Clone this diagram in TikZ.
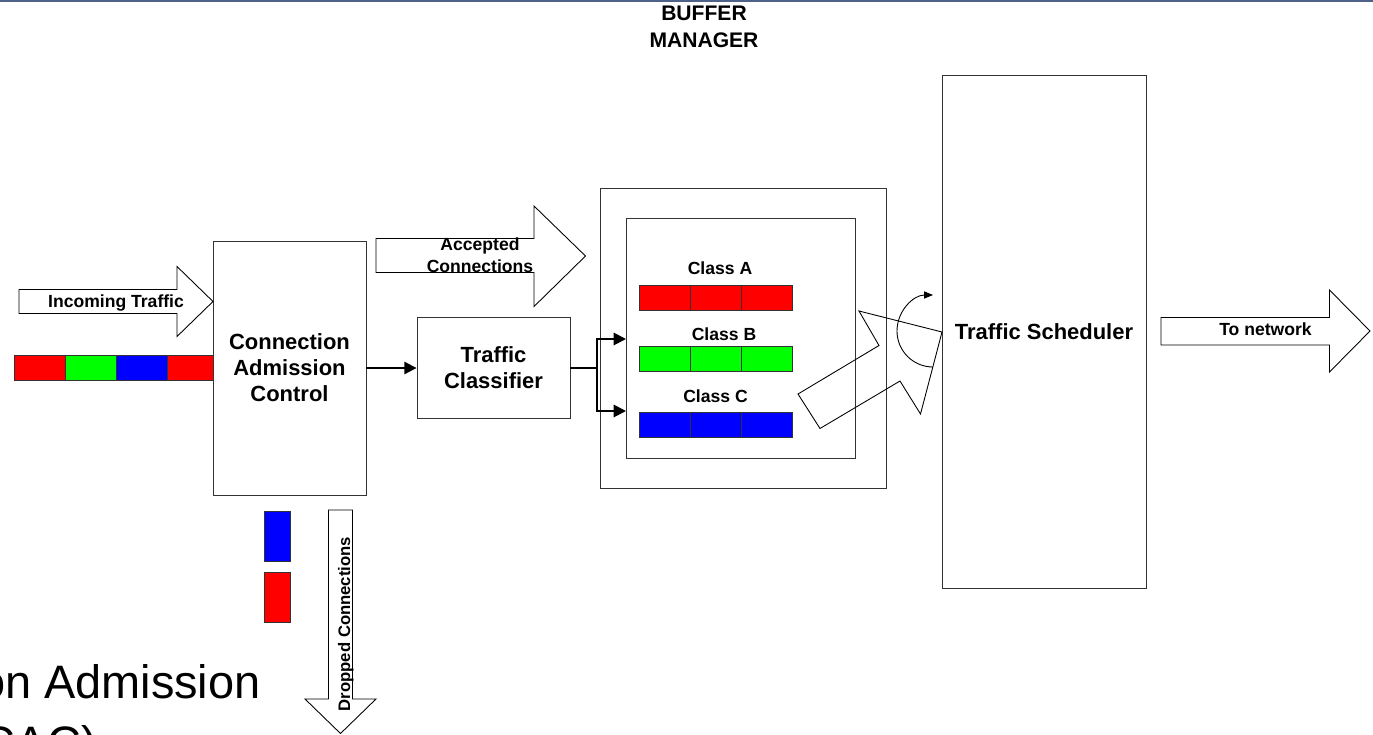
\documentclass[tikz,border=0pt]{standalone}
\usepackage{fontspec}
\setmainfont{Liberation Sans}
\usetikzlibrary{arrows.meta}

\definecolor{slideline}{RGB}{79,98,138}
\newcommand{\pxu}{0.02cm}
\newcommand{\boxfont}{\bfseries\fontsize{12.5}{14.8}\selectfont}
\newcommand{\lblfont}{\bfseries\fontsize{10}{12.5}\selectfont}
\newcommand{\slidefont}{\fontsize{26.7}{32}\selectfont}

\begin{document}
\begin{tikzpicture}[x=\pxu, y=-\pxu,
    box/.style={draw=black!80, line width=0.5pt, fill=white, align=center, font=\boxfont, inner sep=0pt},
    lbl/.style={font=\lblfont, inner sep=0pt},
    conn/.style={line width=1.1pt, -{Triangle[length=7pt, width=7pt]}},
    barrow/.style={draw=black, line width=0.5pt, fill=white},
    cell/.style={draw=black!80, line width=0.5pt}]
    \useasboundingbox (0,0) rectangle (1373,734);
    \clip (0,0) rectangle (1373,734);

    % slide remains
    \draw[slideline, line width=1.2pt] (0,1) -- (1373,1);
    \node[font=\slidefont, inner sep=0pt, anchor=base east] (slide1) at (261,698) {on Admission};
    \node[font=\slidefont, inner sep=0pt, anchor=base west] (slide2) at (-34,759) {(CAC)};

    % incoming packets
    \foreach \c [count=\i from 0] in {red,green,blue,red}
        \draw[cell, fill=\c] (14+51*\i,355.5) rectangle ++(51,25);

    % main blocks
    \node[box, minimum width=153*\pxu, minimum height=254*\pxu] (cac) at (289.5,368) {Connection\\Admission\\Control};
    \node[box, minimum width=153*\pxu, minimum height=101*\pxu] (tc) at (493.5,368) {Traffic\\Classifier};
    \node[box, minimum width=286*\pxu, minimum height=300*\pxu] (bufouter) at (743,338) {};
    \node[box, minimum width=229*\pxu, minimum height=240*\pxu] (bufinner) at (740.5,338) {};
    \node[box, minimum width=204*\pxu, minimum height=513*\pxu] (ts) at (1044,331.5) {Traffic Scheduler};
    \node[lbl, font=\bfseries\fontsize{12}{15.4}\selectfont, align=center] (bmtitle) at (704,27) {BUFFER\\MANAGER};

    % class queues
    \foreach \cls/\tx/\ty/\col/\by in {A/720/274/red/285, B/724/340/green/346.5, C/715.5/402/blue/412.5} {
        \node[lbl, anchor=base] (class\cls) at (\tx,\ty) {Class \cls};
        \foreach \i in {0,1,2}
            \draw[cell, fill=\col] (639+51*\i,\by) rectangle ++(51,25);
    }

    % connectors
    \draw[conn] (cac.east) -- (cac.east -| tc.west);
    \coordinate (split) at (597,368);
    \coordinate (toB) at (626,339);
    \coordinate (toC) at (626,411);
    \draw[line width=1.1pt] (tc.east) -- (split);
    \draw[conn] (split) |- (toB);
    \draw[conn] (split) |- (toC);

    % incoming traffic
    \draw[barrow] (19,289.5) -- (177,289.5) -- (177,266.5) -- (213,301.5) -- (177,336.5) -- (177,313.5) -- (19,313.5) -- cycle;
    \node[lbl, anchor=base] (intxt) at (116,307) {Incoming Traffic};

    % accepted connections
    \draw[barrow] (376,238.5) -- (534,238.5) -- (534,206) -- (585.5,256) -- (534,306.5) -- (534,272.5) -- (376,272.5) -- cycle;
    \node[lbl, align=center] (acctxt) at (480,255) {Accepted\\Connections};

    % to network
    \draw[barrow] (1161,317.5) -- (1329.5,317.5) -- (1329.5,290) -- (1370,331) -- (1329.5,372) -- (1329.5,345) -- (1161,345) -- cycle;
    \node[lbl, anchor=base] (nettxt) at (1265.5,335.5) {To network};

    % dropped connections
    \draw[cell, fill=blue] (264,511) rectangle (290,561);
    \draw[cell, fill=red] (264,572) rectangle (290,622);
    \draw[barrow] (328.5,510) -- (352.5,510) -- (352.5,699) -- (376,699) -- (340.5,733.5) -- (305,699) -- (328.5,699) -- cycle;
    \node[lbl, font=\bfseries\fontsize{9.5}{11}\selectfont, rotate=90, anchor=base] (droptxt) at (350,624) {Dropped Connections};

    % scheduling
    \draw[line width=0.5pt] (798,394) -- (820,428.5) -- (900,381) -- (920.5,414) -- (942,332) -- (859,311) -- (879,345.5) -- cycle;
    \draw[line width=0.5pt, -{Triangle[length=5pt, width=4pt]}] (933,367) arc[start angle=90, end angle=270, radius=36];
\end{tikzpicture}
\end{document}
